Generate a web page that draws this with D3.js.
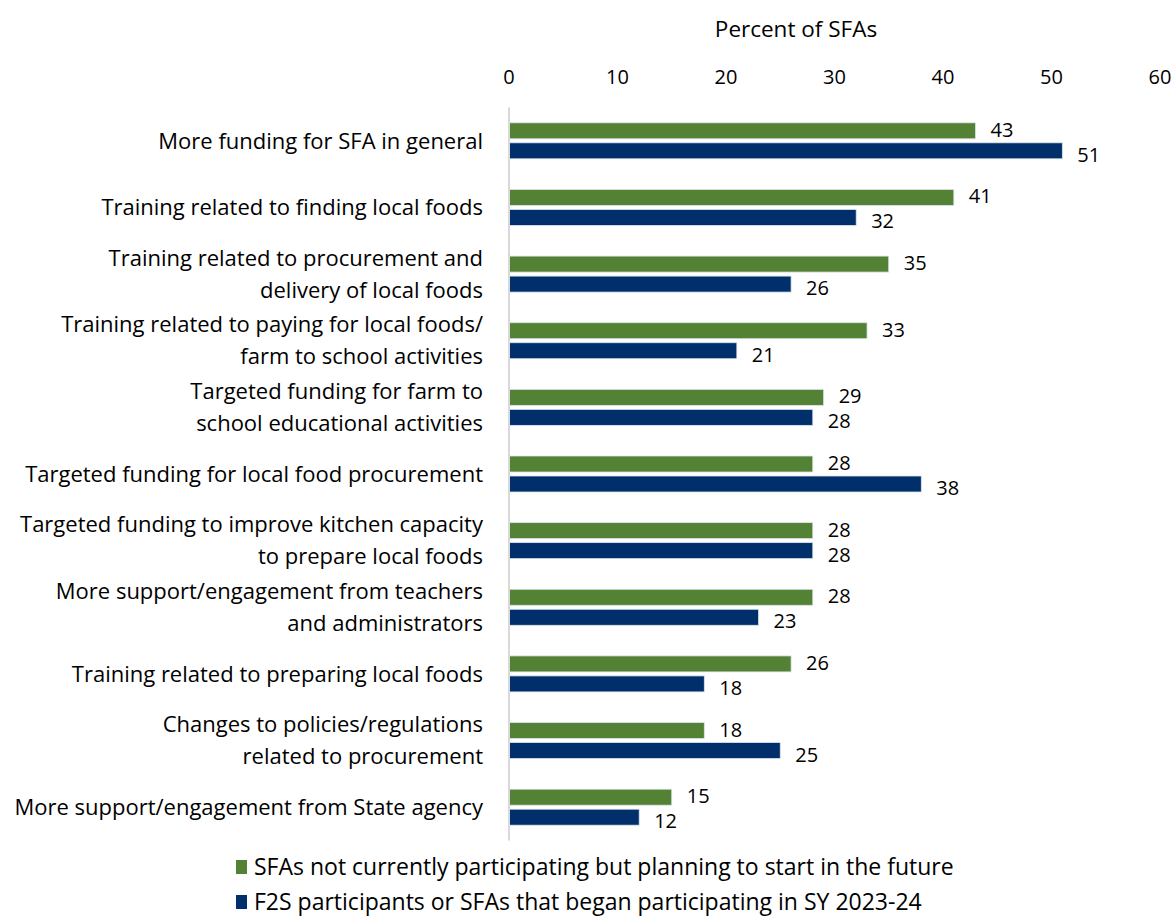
<!DOCTYPE html>
<html>
<head>
<meta charset="utf-8">
<script src="https://cdn.jsdelivr.net/npm/d3@7"></script>
<style>
  body { margin: 0; background: #fff; }
  text { font-family: "Open Sans", sans-serif; fill: #000; }
</style>
</head>
<body>
<div id="chart"></div>
<script>
// categories (each line of a wrapped label is its own string)
var categories = [
  ["More funding for SFA in general"],
  ["Training related to finding local foods"],
  ["Training related to procurement and", "delivery of local foods"],
  ["Training related to paying for local foods/", "farm to school activities"],
  ["Targeted funding for farm to", "school educational activities"],
  ["Targeted funding for local food procurement"],
  ["Targeted funding to improve kitchen capacity", "to prepare local foods"],
  ["More support/engagement from teachers", "and administrators"],
  ["Training related to preparing local foods"],
  ["Changes to policies/regulations", "related to procurement"],
  ["More support/engagement from State agency"]
];
var planning = [43, 41, 35, 33, 29, 28, 28, 28, 26, 18, 15];
var participants = [51, 32, 26, 21, 28, 38, 28, 23, 18, 25, 12];
var seriesNames = [
  "SFAs not currently participating but planning to start in the future",
  "F2S participants or SFAs that began participating in SY 2023-24"
];
var xTicks = [0, 10, 20, 30, 40, 50, 60];

var colors = ["#548235", "#002F6C"];

var width = 1175, height = 919;
var svg = d3.select("#chart").append("svg")
    .attr("width", width)
    .attr("height", height);

var rows = categories.map(function(c, i) {
  return { key: i, label: c, values: [planning[i], participants[i]] };
});

var x = d3.scaleLinear().domain([0, 60]).range([509, 1160]);
var y = d3.scaleBand().domain(d3.range(categories.length)).range([107.5, 840.5]);
var ySub = d3.scaleBand().domain([0, 1])
    .range([(y.bandwidth() - 36) / 2, (y.bandwidth() + 36) / 2])
    .paddingInner(0.2);

// title
svg.append("text")
  .attr("x", 796).attr("y", 37)
  .attr("text-anchor", "middle")
  .style("font-size", "22.5px")
  .text("Percent of SFAs");

// top axis labels
svg.append("g").selectAll("text")
  .data(xTicks).enter().append("text")
  .attr("x", function(d) { return x(d); })
  .attr("y", 84)
  .attr("text-anchor", "middle")
  .style("font-size", "20px")
  .text(function(d) { return d; });

// bars
var g = svg.append("g").selectAll("g")
  .data(rows).enter().append("g")
  .attr("transform", function(d) { return "translate(0," + y(d.key) + ")"; });

g.selectAll("rect")
  .data(function(d) { return d.values; })
  .enter().append("rect")
  .attr("x", x(0))
  .attr("y", function(d, i) { return ySub(i); })
  .attr("width", function(d) { return x(d) - x(0); })
  .attr("height", ySub.bandwidth())
  .attr("fill", function(d, i) { return colors[i]; })
  .attr("stroke", "#dde4ee")
  .attr("stroke-width", 0.8);

g.selectAll("text.val")
  .data(function(d) { return d.values; })
  .enter().append("text")
  .attr("class", "val")
  .attr("x", function(d) { return x(d) + 15; })
  .attr("y", function(d, i) { return ySub(i) + ySub.bandwidth() / 2 + (i === 0 ? -1 : 4); })
  .attr("dy", "0.35em")
  .style("font-size", "20px")
  .text(function(d) { return d; });

// category labels
g.each(function(d) {
  var n = d.label.length;
  var t = d3.select(this).append("text")
    .attr("text-anchor", "end")
    .style("font-size", "22px");
  d.label.forEach(function(line, j) {
    t.append("tspan")
      .attr("x", 483)
      .attr("y", y.bandwidth() / 2 + (j - (n - 1) / 2) * 32)
      .attr("dy", "0.35em")
      .text(line);
  });
});

// vertical axis line
svg.append("line")
  .attr("x1", x(0)).attr("x2", x(0))
  .attr("y1", y.range()[0]).attr("y2", y.range()[1])
  .attr("stroke", "#d9d9d9")
  .attr("stroke-width", 2);

// legend
var legend = svg.append("g").selectAll("g")
  .data(seriesNames).enter().append("g")
  .attr("transform", function(d, i) { return "translate(236," + (867 + i * 35) + ")"; });
legend.append("rect")
  .attr("x", 0).attr("y", -7)
  .attr("width", 11).attr("height", 14)
  .attr("fill", function(d, i) { return colors[i]; });
legend.append("text")
  .attr("x", 18).attr("y", 0)
  .attr("dy", "0.35em")
  .style("font-size", "23px")
  .text(function(d) { return d; });
</script>
</body>
</html>
